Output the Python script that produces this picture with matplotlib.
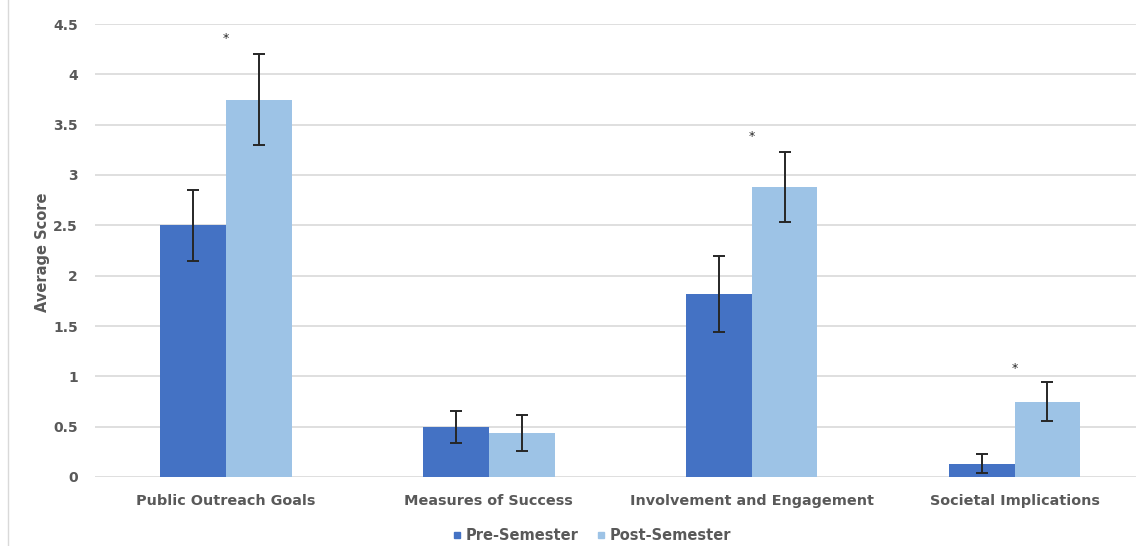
import matplotlib
matplotlib.use("Agg")
import matplotlib.pyplot as plt
import numpy as np
from matplotlib.lines import Line2D

categories = ["Public Outreach Goals", "Measures of Success", "Involvement and Engagement", "Societal Implications"]
pre_values = [2.50, 0.50, 1.82, 0.13]
pre_errors = [0.35, 0.16, 0.38, 0.095]
post_values = [3.75, 0.44, 2.88, 0.75]
post_errors = [0.45, 0.18, 0.35, 0.19]
star_positions = [0, 2, 3]
star_heights = [4.36, 3.38, 1.08]
series_names = ["Pre-Semester", "Post-Semester"]
yticks = [0, 0.5, 1, 1.5, 2, 2.5, 3, 3.5, 4, 4.5]
ytick_labels = ["0", "0.5", "1", "1.5", "2", "2.5", "3", "3.5", "4", "4.5"]

plt.rcParams['font.family'] = ['DejaVu Sans']
text_color = "#595959"
pre_color = "#4472C4"
post_color = "#9DC3E6"

W, H = 1136, 546
fig = plt.figure(figsize=(W / 100, H / 100), dpi=100)
ax = fig.add_axes([94.5 / W, 69 / H, 1051.5 / W, 453 / H])

x = np.arange(len(categories))
bw = 0.25
err_kw = dict(ecolor="#262626", elinewidth=1.4, capsize=4, capthick=1.4)
ax.bar(x - bw / 2, pre_values, bw, color=pre_color, yerr=pre_errors, error_kw=err_kw,
       label=series_names[0], zorder=2)
ax.bar(x + bw / 2, post_values, bw, color=post_color, yerr=post_errors, error_kw=err_kw,
       label=series_names[1], zorder=2)

for p, h in zip(star_positions, star_heights):
    ax.text(p, h, "*", ha="center", va="center", fontsize=9, color="#262626")

ax.set_xlim(-0.5, 3.5)
ax.set_ylim(0, 4.5)
ax.set_yticks(yticks)
ax.set_yticklabels(ytick_labels)
ax.set_xticks(x)
ax.set_xticklabels(categories)
ax.grid(axis="y", color="#d9d9d9", linewidth=1.2, zorder=0)
ax.set_axisbelow(True)
for s in ax.spines.values():
    s.set_visible(False)
ax.tick_params(axis="both", length=0, colors=text_color)
ax.tick_params(axis="x", pad=12, labelsize=10.4)
ax.tick_params(axis="y", pad=12, labelsize=10)
for lab in ax.get_xticklabels() + ax.get_yticklabels():
    lab.set_fontweight("bold")

fig.text(43 / W, 1 - 252 / H, "Average Score", rotation=90, ha="center", va="center",
         fontsize=10.5, fontweight="bold", color=text_color)

handles = [Line2D([], [], marker="s", linestyle="none", markersize=5, color=pre_color),
           Line2D([], [], marker="s", linestyle="none", markersize=5, color=post_color)]
leg = fig.legend(handles, series_names, loc="center", bbox_to_anchor=(592 / W, 1 - 536 / H),
                 ncol=2, frameon=False, handlelength=0.6, handletextpad=0.3,
                 columnspacing=1.2, prop={"weight": "bold", "size": 10.5})
for t in leg.get_texts():
    t.set_color(text_color)

fig.add_artist(Line2D([8 / W, 8 / W], [0, 1], color="#d9d9d9", linewidth=1))

fig.savefig("out.png", dpi=100)
